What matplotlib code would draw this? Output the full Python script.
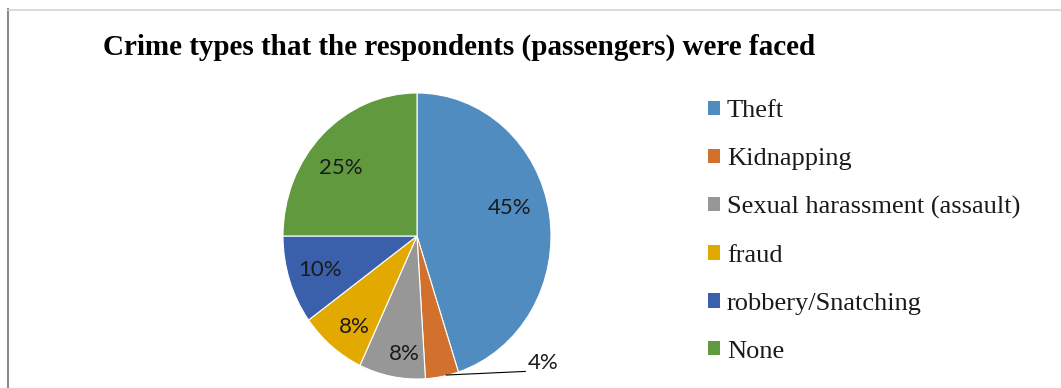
#!/usr/bin/env python3
"""
Pie chart of the crime types reported by the surveyed passengers.
"""

import numpy as np
import matplotlib
matplotlib.use("Agg")
import matplotlib.pyplot as plt
from matplotlib.patches import Patch

# Survey shares (percent)
crime_types = [
    "Theft",
    "Kidnapping",
    "Sexual harassment (assault)",
    "fraud",
    "robbery/Snatching",
    "None",
]
shares = [45, 4, 8, 8, 10, 25]

colors = ["#508CC0", "#D2702D", "#979797", "#E2AA00", "#3B60AB", "#619A3E"]

W, H = 1061, 388
fig = plt.figure(figsize=(W / 100, H / 100), dpi=100)

# Pie axes: centre and radii in pixels
cx, cy, rx, ry = 417, 236, 134, 143
ax = fig.add_axes([(cx - rx) / W, (H - cy - ry) / H, 2 * rx / W, 2 * ry / H])

pct_font = dict(fontsize=16, family=["Lato", "DejaVu Sans"], color="#1a1a1a")
wedges, texts, autotexts = ax.pie(
    shares, colors=colors, startangle=90, counterclock=False,
    autopct="%1.0f%%", pctdistance=0.76,
    wedgeprops=dict(edgecolor="white", linewidth=0.8),
    textprops=pct_font,
)
ax.set_aspect("auto")
ax.set_xlim(-1, 1)
ax.set_ylim(-1, 1)
ax.axis("off")

# Nudge the inside labels the way the office chart places them
label_r = [0.72, 0.76, 0.83, 0.79, 0.76, 0.74]
label_shift = [7, 0, 4, 3.5, 0, 5]
for w, t, r, s in zip(wedges, autotexts, label_r, label_shift):
    ang = np.deg2rad((w.theta1 + w.theta2) / 2 + s)
    t.set_position((r * np.cos(ang), r * np.sin(ang)))

# Small slice gets an outside label with a leader line
small = wedges[1]
ang = np.deg2rad((small.theta1 + small.theta2) / 2)
autotexts[1].set_visible(False)
ax.annotate(
    autotexts[1].get_text(), xy=(np.cos(ang) + 0.03, np.sin(ang) + 0.01),
    xytext=(0.83, -0.96), ha="left", va="bottom", **pct_font,
    arrowprops=dict(arrowstyle="-", color="black", lw=0.8,
                    shrinkA=0, shrinkB=0, relpos=(0, 0.1)),
    annotation_clip=False,
)

fig.text(459 / W, 1 - 55 / H,
         "Crime types that the respondents (passengers) were faced",
         ha="center", va="baseline", fontsize=21, fontweight="bold",
         family="Liberation Serif", color="black")

handles = [Patch(facecolor=c, edgecolor="none") for c in colors]
fs = 19
fs_px = fs * 100 / 72
fig.legend(
    handles, crime_types, loc="center left",
    bbox_to_anchor=(708 / W, 1 - 231.5 / H),
    frameon=False, borderpad=0, borderaxespad=0,
    handlelength=12 / fs_px, handleheight=12 / fs_px,
    handletextpad=7 / fs_px, labelspacing=0.98,
    prop=dict(family="Liberation Serif", size=fs),
    labelcolor="#1a1a1a",
)

# Chart area border: grey line on the left and top
fig.add_artist(plt.Line2D([7.5 / W, 7.5 / W], [0, 1 - 9 / H],
                          color="#8a8a8a", lw=1.5))
fig.add_artist(plt.Line2D([7.5 / W, 1], [1 - 9.5 / H, 1 - 9.5 / H],
                          color="#d4d4d4", lw=1.2))

fig.savefig("out.png", dpi=100)
plt.close(fig)
